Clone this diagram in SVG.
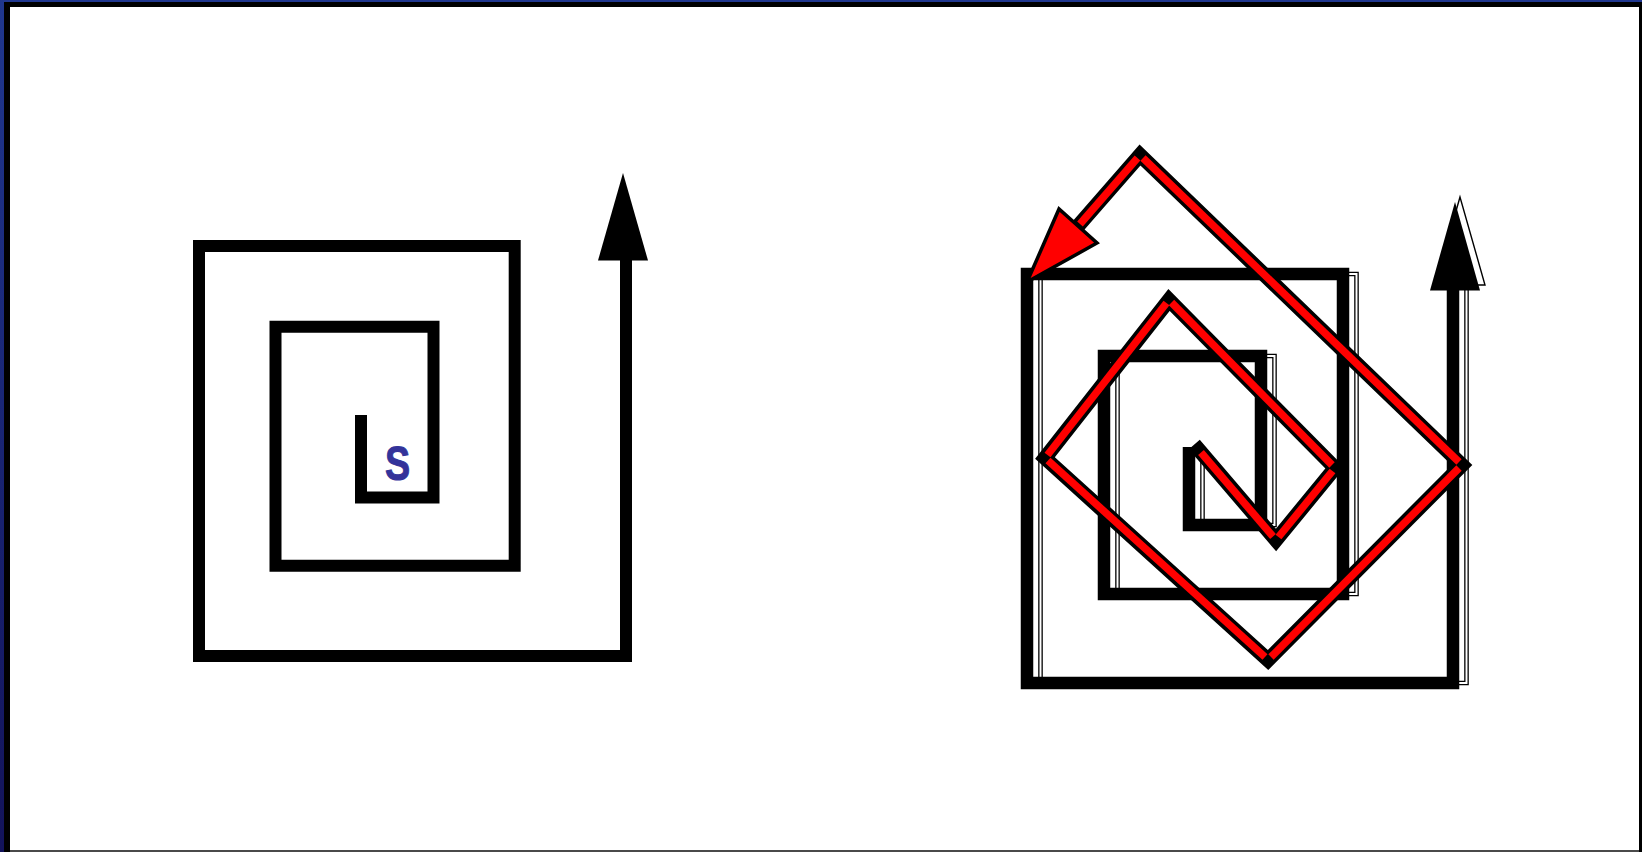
<svg xmlns="http://www.w3.org/2000/svg" width="1642" height="852" viewBox="0 0 1642 852">
<defs>
<linearGradient id="frameBlue" x1="0" y1="0" x2="0" y2="1">
<stop offset="0" stop-color="#20378f"/>
<stop offset="1" stop-color="#13135a"/>
</linearGradient>
</defs>
<style>
.spiralL{fill:none;stroke:#000;stroke-width:12;stroke-linejoin:miter;stroke-linecap:butt}
.spiralR{fill:none;stroke:#000;stroke-width:12.5;stroke-linejoin:miter;stroke-linecap:butt}
.ghostOut{fill:none;stroke:#000;stroke-width:4.6;stroke-linejoin:miter;stroke-linecap:square}
.ghostIn{fill:none;stroke:#fff;stroke-width:2;stroke-linejoin:miter;stroke-linecap:square}
.redOut{fill:none;stroke:#000;stroke-width:14.5;stroke-linejoin:miter;stroke-linecap:square}
.redIn{fill:none;stroke:#f00;stroke-width:7.5;stroke-linecap:butt}
.label{font-family:"Liberation Sans",Arial,sans-serif;font-weight:bold;font-size:49px;fill:#33339a;stroke:#33339a;stroke-width:1}
</style>
<rect x="0" y="0" width="1642" height="852" fill="url(#frameBlue)"/>
<rect x="4" y="2" width="1638" height="850" fill="#000"/>
<rect x="10" y="7" width="1629" height="843" fill="#fff"/>
<rect x="10" y="850" width="1629" height="2" fill="#4a4a4a"/>

<g id="left-spiral">
<path class="spiralL" d="M361,415 V497.5 H433.5 V326.7 H275.5 V565.8 H514.7 V246 H199 V656 H626 V258"/>
<polygon points="623,173 598,260.5 648,260.5" fill="#000"/>
<text class="label" transform="translate(397.5,479.5) scale(0.77,1)" text-anchor="middle">S</text>
</g>

<g id="right-ghost-spiral" transform="translate(13.5,0)">
<path class="ghostOut" d="M1189,449 V525 H1261 V356 H1104 V594 H1343 V274 H1027 V683 H1453 V286"/>
<path class="ghostIn" d="M1189,449 V525 H1261 V356 H1104 V594 H1343 V274 H1027 V683 H1453 V286"/>
</g>
<polygon id="ghost-arrowhead" points="1460,197 1435,285 1485,285" fill="#fff" stroke="#000" stroke-width="1.4"/>

<g id="right-spiral">
<path class="spiralR" d="M1189,447 V525 H1261 V356 H1104 V594 H1343 V274 H1027 V683 H1453 V288"/>
<polygon points="1455,202 1430,290.5 1480,290.5" fill="#000"/>
</g>

<g id="connectors">
<polyline class="redOut" points="1199,450 1276,540 1335,468 1169,300 1045,458 1268,660 1462,465 1140,155 1078,226"/>
<line class="redIn" x1="1201" y1="452.5" x2="1273" y2="536.5"/>
<line class="redIn" x1="1278.5" y1="537" x2="1332.5" y2="471"/>
<line class="redIn" x1="1332" y1="465" x2="1171.5" y2="302.5"/>
<line class="redIn" x1="1166.5" y1="303" x2="1047.5" y2="455"/>
<line class="redIn" x1="1048" y1="460.5" x2="1265" y2="657"/>
<line class="redIn" x1="1271" y1="657" x2="1459" y2="468"/>
<line class="redIn" x1="1459" y1="462" x2="1143" y2="158"/>
<line class="redIn" x1="1137.5" y1="158" x2="1080" y2="224"/>
<polygon points="1027,282 1059,209 1097,243" fill="#f00" stroke="#000" stroke-width="3.5" stroke-linejoin="miter"/>
</g>
</svg>
